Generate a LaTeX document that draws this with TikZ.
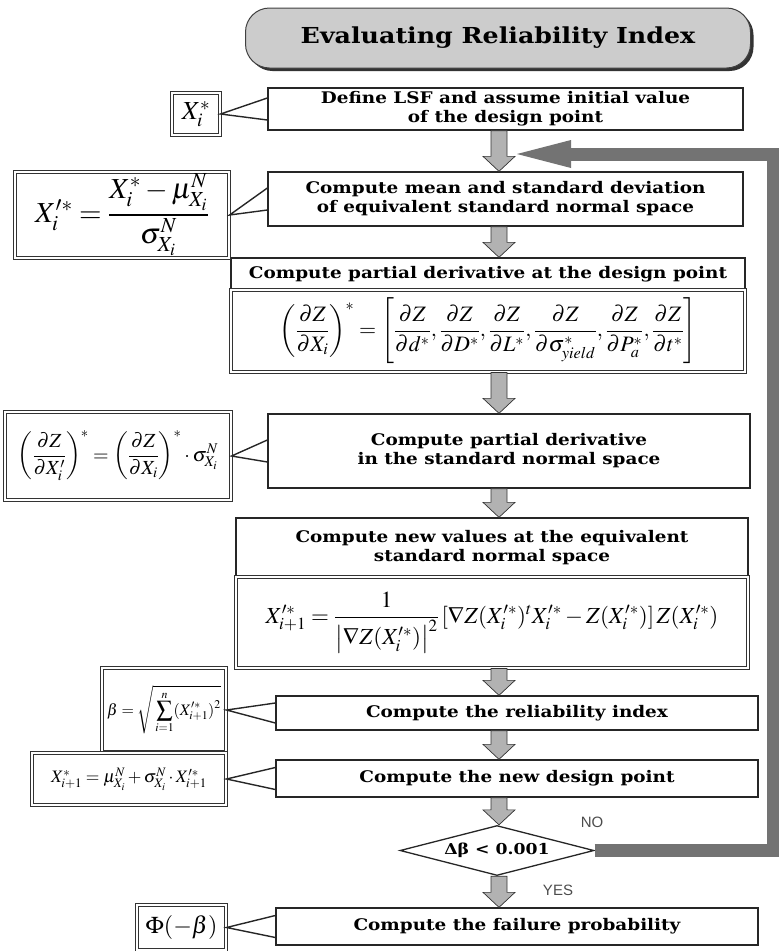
\documentclass[tikz,border=0pt]{standalone}
\usepackage{amsmath}
\usepackage{mathptmx}
\usepackage{fontspec}
\usetikzlibrary{shapes.geometric,calc,shadows}
\newfontfamily\boxfont[FakeStretch=1.15]{DejaVu Serif}
\newfontfamily\labelfont{Liberation Sans}

\begin{document}
\begin{tikzpicture}[x=1pt,y=-1pt,
		stepbox/.style={draw=black!85, line width=1.3pt, fill=white, align=center, inner sep=0pt, font=\boxfont\bfseries\fontsize{16}{19}\selectfont},
		eqbox/.style={draw=black!80, double=white, double distance=1.4pt, line width=1.1pt, fill=white, inner sep=0pt},
		callout/.style={line width=1.4pt, black!85},
		blockarrow/.style={fill=gray!60, draw=black!80, line width=0.7pt},
		loopband/.style={line width=13pt, black!55},
		answer/.style={font=\labelfont\fontsize{15}{18}\selectfont, text=black!70},
		banner/.style={draw=black!75, line width=1pt, fill=gray!40, rounded corners=24pt, minimum width=505pt, minimum height=60pt, drop shadow={shadow xshift=3pt, shadow yshift=-3pt, fill=black!80, opacity=1}, font=\boxfont\bfseries\fontsize{22}{26}\selectfont},
		decision/.style={diamond, aspect=4, draw=black!85, line width=1.3pt, fill=white, minimum width=194pt, minimum height=50pt, inner sep=0pt, font=\boxfont\bfseries\fontsize{15}{18}\selectfont}]
		\useasboundingbox (0,0) rectangle (779,951);

		\node[banner] (T) at (498,38) {Evaluating Reliability Index};

		\node[stepbox, minimum width=475pt, minimum height=42pt] (S1) at (505.5,109) {Define LSF and assume initial value\\of the design point};
		\node[stepbox, minimum width=475pt, minimum height=54pt] (S2) at (505.5,199) {Compute mean and standard deviation\\of equivalent standard normal space};
		\node[stepbox, minimum width=514pt, minimum height=32pt] (S3) at (488,274) {Compute partial derivative at the design point};
		\node[eqbox, minimum width=514pt, minimum height=82pt, font=\fontsize{22}{26}\selectfont] (F3) at (488,331) {$\left(\dfrac{\partial Z}{\partial X_i}\right)^{*}=\left[\dfrac{\partial Z}{\partial d^{*}},\dfrac{\partial Z}{\partial D^{*}},\dfrac{\partial Z}{\partial L^{*}},\dfrac{\partial Z}{\partial \sigma_{yield}^{*}},\dfrac{\partial Z}{\partial P_a^{*}},\dfrac{\partial Z}{\partial t^{*}}\right]$};
		\node[stepbox, minimum width=482pt, minimum height=74pt] (S4) at (509,451) {Compute partial derivative\\in the standard normal space};
		\node[stepbox, minimum width=512pt, minimum height=59pt] (S5) at (492,547.5) {Compute new values at the equivalent\\standard normal space};
		\node[eqbox, minimum width=512pt, minimum height=91pt, font=\fontsize{23}{27}\selectfont] (F5) at (492,622.5) {$X_{i+1}^{\prime *}=\dfrac{1}{\left|\nabla Z(X_i^{\prime *})\right|^{2}}\left[\nabla Z(X_i^{\prime *})^{t}X_i^{\prime *}-Z(X_i^{\prime *})\right]Z(X_i^{\prime *})$};
		\node[stepbox, minimum width=482pt, minimum height=34pt] (S6) at (517,713) {Compute the reliability index};
		\node[stepbox, minimum width=482pt, minimum height=37pt] (S7) at (517,778.5) {Compute the new design point};
		\node[decision] (D) at (497,850.5) {Δβ < 0.001};
		\node[stepbox, minimum width=482pt, minimum height=37pt] (S8) at (517,926.5) {Compute the failure probability};

		\node[eqbox, minimum width=48pt, minimum height=42pt, font=\fontsize{26}{30}\selectfont] (X1) at (196,114) {$X_i^{*}$};
		\node[eqbox, minimum width=214pt, minimum height=86pt, font=\fontsize{29}{33}\selectfont] (E2) at (122,215) {$X_i^{\prime *}=\dfrac{X_i^{*}-\mu_{X_i}^{N}}{\sigma_{X_i}^{N}}$};
		\node[eqbox, minimum width=226pt, minimum height=88pt, font=\fontsize{20}{24}\selectfont] (E4) at (118,456) {$\left(\dfrac{\partial Z}{\partial X_i^{\prime}}\right)^{*}=\left(\dfrac{\partial Z}{\partial X_i}\right)^{*}\cdot\sigma_{X_i}^{N}$};
		\node[eqbox, minimum width=124pt, minimum height=84pt, font=\fontsize{16}{19}\selectfont] (B6) at (164,710) {$\beta=\sqrt{\,\displaystyle\sum_{i=1}^{n}(X_{i+1}^{\prime *})^{2}\vphantom{\sum^{N}}}$};
		\node[eqbox, minimum width=194pt, minimum height=52pt, font=\fontsize{17.5}{21}\selectfont] (X7) at (129,779) {$X_{i+1}^{*}=\mu_{X_i}^{N}+\sigma_{X_i}^{N}\cdot X_{i+1}^{\prime *}$};
		\node[eqbox, minimum width=89pt, minimum height=45pt, font=\fontsize{24}{28}\selectfont] (P8) at (181.5,927.5) {$\Phi(-\beta)$};

		\node[answer] (no) at (592,822) {NO};
		\node[answer] (yes) at (558,890) {YES};

		\draw[callout] ([yshift=11pt]S1.west) -- (X1.east) -- ([yshift=-11pt]S1.west);
		\draw[callout] ([yshift=11pt]S2.west) -- (E2.east) -- ([yshift=-11pt]S2.west);
		\draw[callout] ([yshift=11pt]S4.west) -- (E4.east) -- ([yshift=-11pt]S4.west);
		\draw[callout] ([yshift=10pt]S6.west) -- (B6.east) -- ([yshift=-10pt]S6.west);
		\draw[callout] ([yshift=11pt]S7.west) -- (X7.east) -- ([yshift=-11pt]S7.west);
		\draw[callout] ([yshift=11pt]S8.west) -- (P8.east) -- ([yshift=-11pt]S8.west);

		\coordinate (axis) at (499,0);
		\foreach \a/\b in {S1/S2,S2/S3,F3/S4,S4/S5,F5/S6,S6/S7,S7/D,D/S8}
			\filldraw[blockarrow] ($(\a.south -| axis)+(-8,0)$) -- ($(\a.south -| axis)+(8,0)$) -- ($(\b.north -| axis)+(8,-15)$) -- ($(\b.north -| axis)+(16,-15)$) -- (\b.north -| axis) -- ($(\b.north -| axis)+(-16,-15)$) -- ($(\b.north -| axis)+(-8,-15)$) -- cycle;

		\coordinate (fbtip) at (517,154);
		\coordinate (fbturn) at (773,154);
		\draw[loopband] (D.east) -| (fbturn) -- ($(fbtip)+(50,0)$);
		\fill[black!55] (fbtip) -- ($(fbtip)+(54,-14)$) -- ($(fbtip)+(54,14)$) -- cycle;
	\end{tikzpicture}
\end{document}
